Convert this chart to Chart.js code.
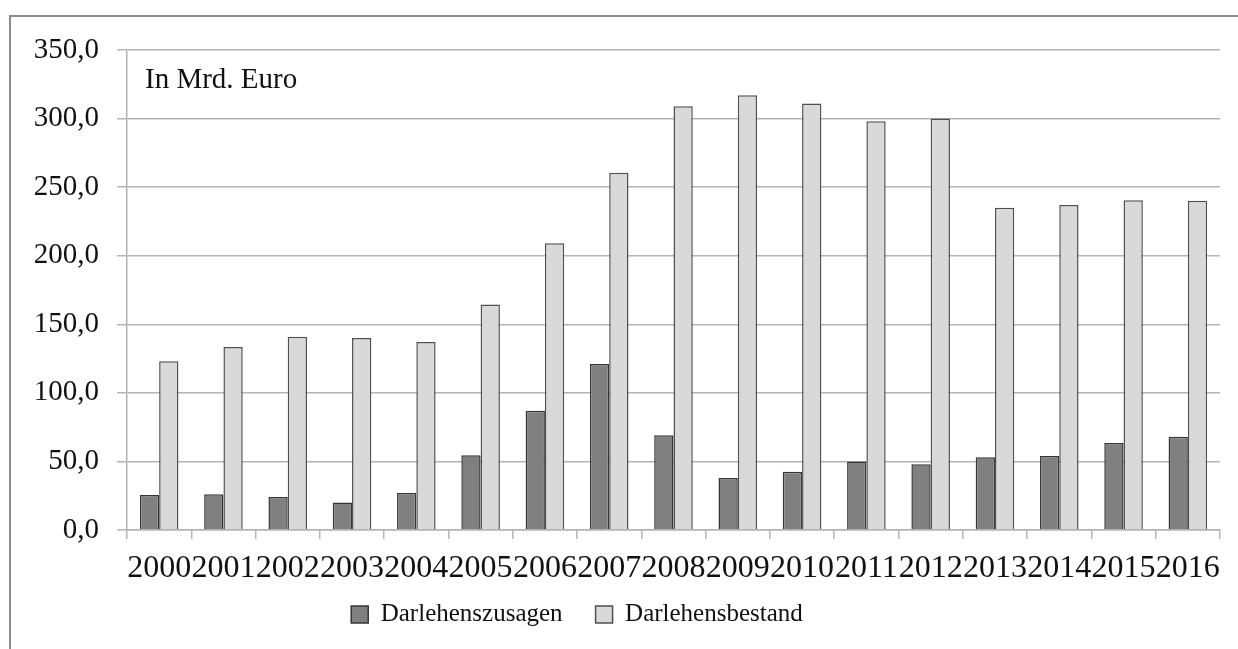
<!DOCTYPE html>
<html>
<head>
<meta charset="utf-8">
<script src="https://cdn.jsdelivr.net/npm/chart.js@4/dist/chart.umd.min.js"></script>
<style>
  html, body { margin: 0; padding: 0; background: #ffffff; }
  #wrap { width: 1238px; height: 649px; position: relative; }
</style>
</head>
<body>
<div id="wrap"><canvas id="c" width="1238" height="649"></canvas></div>
<script>
// Jahre (x-Achse)
const years = ['2000','2001','2002','2003','2004','2005','2006','2007','2008',
               '2009','2010','2011','2012','2013','2014','2015','2016'];

// Darlehenszusagen, in Mrd. Euro
const zusagen = [25.5, 26.0, 24.0, 20.0, 27.0, 54.5, 87.0, 121.0, 69.0,
                 38.0, 42.5, 50.0, 48.0, 53.0, 54.0, 63.5, 68.0];

// Darlehensbestand, in Mrd. Euro
const bestand = [123.0, 133.5, 141.0, 140.0, 137.0, 164.5, 209.0, 260.5, 309.0,
                 317.0, 311.0, 298.0, 300.0, 235.0, 237.0, 240.5, 240.0];

// Beschriftung der y-Achse
const yTicks = [0, 50, 100, 150, 200, 250, 300, 350];
const unitNote = 'In Mrd. Euro';

const serif = "'Liberation Serif', 'Times New Roman', serif";
const gridGray = '#b4b4b4';

// Rahmen um die Grafik und Einheitenhinweis oben links
const framePlugin = {
  id: 'frame',
  beforeDraw(chart) {
    const ctx = chart.ctx;
    ctx.save();
    ctx.fillStyle = '#ffffff';
    ctx.fillRect(0, 0, chart.width, chart.height);
    ctx.strokeStyle = '#8c8c8c';
    ctx.lineWidth = 2;
    ctx.beginPath();
    ctx.moveTo(10, chart.height + 5);
    ctx.lineTo(10, 16);
    ctx.lineTo(chart.width + 5, 16);
    ctx.stroke();
    ctx.restore();
  },
  afterDraw(chart) {
    const ctx = chart.ctx;
    ctx.save();
    ctx.font = '29px ' + serif;
    ctx.fillStyle = '#111';
    ctx.textBaseline = 'alphabetic';
    ctx.textAlign = 'left';
    ctx.fillText(unitNote, chart.chartArea.left + 18, 88);
    ctx.restore();
  },
  afterLayout(chart) {
    // Legende etwas nach links und oben versetzt
    const lg = chart.legend;
    if (lg) {
      lg.left -= 38; lg.right -= 38;
      lg.top -= 13; lg.bottom -= 13;
    }
  }
};

new Chart(document.getElementById('c'), {
  type: 'bar',
  data: {
    labels: years,
    datasets: [
      {
        label: 'Darlehenszusagen',
        data: zusagen,
        backgroundColor: '#808080',
        borderColor: '#363636',
        borderWidth: 1.5
      },
      {
        label: 'Darlehensbestand',
        data: bestand,
        backgroundColor: '#d9d9d9',
        borderColor: '#505050',
        borderWidth: 1.5
      }
    ]
  },
  options: {
    responsive: false,
    animation: false,
    devicePixelRatio: 1,
    layout: { padding: { left: 10, right: 18, top: 50, bottom: 10 } },
    datasets: {
      bar: { categoryPercentage: 0.6, barPercentage: 1.0 }
    },
    scales: {
      x: {
        offset: true,
        grid: {
          display: true,
          offset: true,
          drawOnChartArea: false,
          drawTicks: true,
          tickLength: 9,
          color: gridGray,
          lineWidth: 1.5
        },
        border: { display: true, color: gridGray, width: 1.5 },
        ticks: {
          font: { family: serif, size: 32 },
          color: '#111',
          padding: 10,
          maxRotation: 0,
          autoSkip: false
        },
        afterFit(scale) { scale.height = 52; }
      },
      y: {
        min: yTicks[0],
        max: yTicks[yTicks.length - 1],
        afterBuildTicks(scale) { scale.ticks = yTicks.map(v => ({ value: v })); },
        grid: {
          color: gridGray,
          lineWidth: 1.5,
          tickLength: 10,
          drawTicks: true
        },
        border: { display: true, color: gridGray, width: 1.5 },
        ticks: {
          font: { family: serif, size: 29 },
          color: '#111',
          padding: 18,
          callback: v => Number(v).toFixed(1).replace('.', ',')
        },
        afterFit(scale) { scale.width = 117; }
      }
    },
    plugins: {
      legend: {
        position: 'bottom',
        maxHeight: 57,
        labels: {
          font: { family: serif, size: 25 },
          color: '#111',
          boxWidth: 17,
          boxHeight: 17,
          padding: 33
        }
      },
      tooltip: { enabled: false },
      title: { display: false }
    }
  },
  plugins: [framePlugin]
});
</script>
</body>
</html>
